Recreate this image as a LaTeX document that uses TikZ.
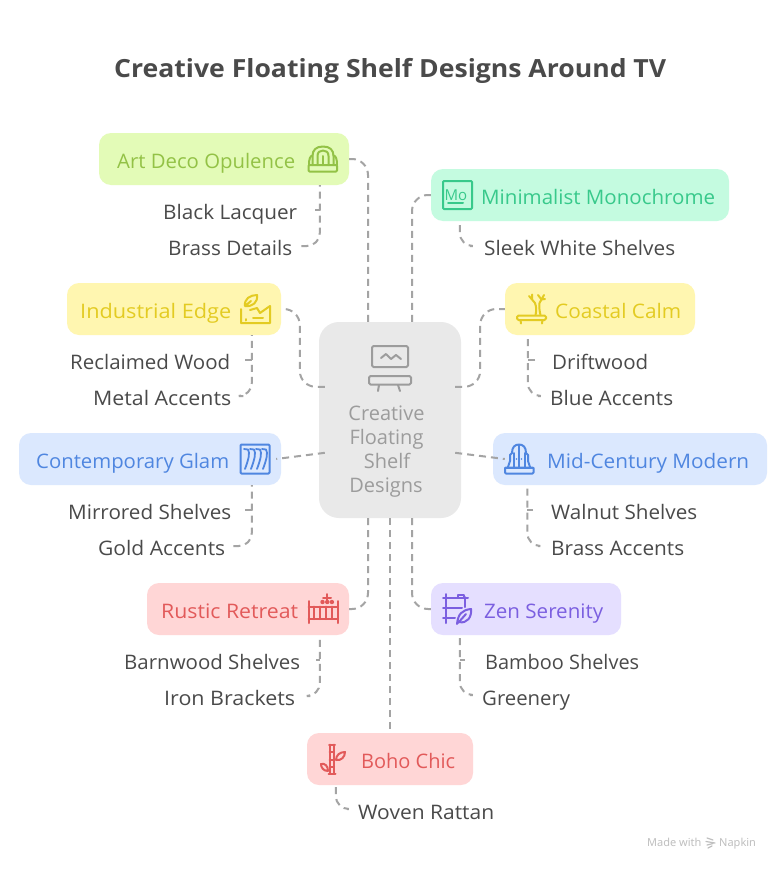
\documentclass[tikz,border=0pt]{standalone}
\usepackage{graphicx}
\usepackage{fontspec}
\setmainfont{Open Sans}
\newfontfamily\markfont{Noto Sans}
\usetikzlibrary{calc}
\definecolor{cgreen}{HTML}{E3FBB7}\definecolor{tgreen}{HTML}{93C246}
\definecolor{cmint}{HTML}{C4FBE0}\definecolor{tmint}{HTML}{38C98B}
\definecolor{cyel}{HTML}{FFF6B0}\definecolor{tyel}{HTML}{E3CB22}
\definecolor{cblue}{HTML}{DBE8FE}\definecolor{tblue}{HTML}{4F86E0}
\definecolor{cred}{HTML}{FFD6D6}\definecolor{tred}{HTML}{E25A5A}
\definecolor{cpur}{HTML}{E5DFFF}\definecolor{tpur}{HTML}{7B5FE0}
\definecolor{chub}{HTML}{E9E9E9}\definecolor{thub}{HTML}{9C9C9C}
\definecolor{tleaf}{HTML}{4A4A4A}\definecolor{tlink}{HTML}{A4A4A4}
\newcommand{\fitw}[2]{\resizebox{#1pt}{\height}{#2}}
\tikzset{
  card/.style={draw=none,rounded corners=12pt,inner sep=0pt,minimum height=52pt},
  txt/.style={anchor=base west,inner sep=0pt,font=\fontsize{20}{24}\selectfont},
  leaf/.style={txt,text=tleaf},
  link/.style={draw=tlink,line width=2pt,dash pattern=on 7pt off 5pt,rounded corners=16pt},
  sublink/.style={link,rounded corners=13pt},
  stub/.style={link,sharp corners},
  ico/.style={line width=2pt,line cap=round,line join=round},
}
\begin{document}
\begin{tikzpicture}[x=1pt,y=-1pt]
\useasboundingbox (0,0) rectangle (780,870);
\fill[white] (0,0) rectangle (780,870);
% title
\node[anchor=base west,inner sep=0pt,text=tleaf,font=\fontsize{25}{30}\selectfont\bfseries] (title) at (114,77) {\fitw{552}{Creative Floating Shelf Designs Around TV}};
% cards
\node[card,fill=chub,rounded corners=20pt,minimum width=142pt,minimum height=196pt] (hub) at (390,420) {};
\node[card,fill=cgreen,minimum width=250pt] (artdeco) at (224,159) {};
\node[card,fill=cmint,minimum width=298pt] (minimal) at (580,195) {};
\node[card,fill=cyel,minimum width=214pt] (industrial) at (174,309) {};
\node[card,fill=cyel,minimum width=190pt] (coastal) at (600,309) {};
\node[card,fill=cblue,minimum width=262pt] (contemp) at (150,459) {};
\node[card,fill=cblue,minimum width=274pt] (midcent) at (630,459) {};
\node[card,fill=cred,minimum width=202pt] (rustic) at (248,609) {};
\node[card,fill=cpur,minimum width=190pt] (zen) at (526,609) {};
\node[card,fill=cred,minimum width=166pt] (boho) at (390,759) {};
% card labels
\node[txt,text=tgreen] (artdecoT) at (117,168.5) {\fitw{178}{Art Deco Opulence}};
\node[txt,text=tmint] (minimalT) at (481,204.5) {\fitw{234}{Minimalist Monochrome}};
\node[txt,text=tyel] (industrialT) at (80,318.5) {\fitw{151}{Industrial Edge}};
\node[txt,text=tyel] (coastalT) at (555,318.5) {\fitw{126}{Coastal Calm}};
\node[txt,text=tblue] (contempT) at (36,468.5) {\fitw{193}{Contemporary Glam}};
\node[txt,text=tblue] (midcentT) at (547,468.5) {\fitw{202}{Mid-Century Modern}};
\node[txt,text=tred] (rusticT) at (161,618.5) {\fitw{137}{Rustic Retreat}};
\node[txt,text=tpur] (zenT) at (484,618.5) {\fitw{119}{Zen Serenity}};
\node[txt,text=tred] (bohoT) at (361,768.5) {\fitw{94}{Boho Chic}};
% leaves
\node[leaf] (lacquer) at (163,219) {\fitw{134}{Black Lacquer}};
\node[leaf] (brassd) at (168,255) {\fitw{124}{Brass Details}};
\node[leaf] (sleek) at (484,255) {\fitw{191}{Sleek White Shelves}};
\node[leaf] (reclaimed) at (70,369) {\fitw{160}{Reclaimed Wood}};
\node[leaf] (metal) at (93,405) {\fitw{138}{Metal Accents}};
\node[leaf] (driftwood) at (552,369) {\fitw{96}{Driftwood}};
\node[leaf] (blueacc) at (550,405) {\fitw{123}{Blue Accents}};
\node[leaf] (mirrored) at (68,519) {\fitw{163}{Mirrored Shelves}};
\node[leaf] (gold) at (98,555) {\fitw{127}{Gold Accents}};
\node[leaf] (walnut) at (551,519) {\fitw{146}{Walnut Shelves}};
\node[leaf] (brassa) at (551,555) {\fitw{133}{Brass Accents}};
\node[leaf] (barnwood) at (124,669) {\fitw{176}{Barnwood Shelves}};
\node[leaf] (iron) at (164,705) {\fitw{131}{Iron Brackets}};
\node[leaf] (bamboo) at (485,669) {\fitw{154}{Bamboo Shelves}};
\node[leaf] (greenery) at (482,705) {\fitw{88}{Greenery}};
\node[leaf] (rattan) at (358,819) {\fitw{136}{Woven Rattan}};
% hub text
\node[txt,text=thub,anchor=base] (hubA) at (386.5,420.5) {Creative};
\node[txt,text=thub,anchor=base] (hubB) at (386.5,444.5) {Floating};
\node[txt,text=thub,anchor=base] (hubC) at (387,468.5) {Shelf};
\node[txt,text=thub,anchor=base] (hubD) at (386,492.5) {Designs};
% ports
\coordinate (hubNL) at ($(hub.north)+(-22,0)$);
\coordinate (hubNR) at ($(hub.north)+(22,0)$);
\coordinate (hubSL) at ($(hub.south)+(-22,0)$);
\coordinate (hubSR) at ($(hub.south)+(22,0)$);
\coordinate (hubW1) at ($(hub.north west)+(6,65)$);
\coordinate (hubW2) at ($(hub.north west)+(6,131)$);
\coordinate (hubE1) at ($(hub.north east)+(-6,65)$);
\coordinate (hubE2) at ($(hub.north east)+(-6,131)$);
% hub links
\draw[link] (hubNL) |- (artdeco.east);
\draw[link] (hubNR) |- (minimal.west);
\coordinate (indBend) at ($(hubW1)+(-25,0)$);
\draw[link] (hubW1) -- (indBend) |- (industrial.east);
\coordinate (coaBend) at ($(hubE1)+(25,0)$);
\draw[link] (hubE1) -- (coaBend) |- (coastal.west);
\draw[link] (hubW2) -- ($(contemp.east)+(-5,0)$);
\draw[link] (hubE2) -- ($(midcent.west)+(12,0)$);
\draw[link] (hubSL) |- (rustic.east);
\draw[link] (hubSR) |- (zen.west);
\draw[link] (hub.south) -- (boho.north);
% child links: trunk runs from the card, ends at the last leaf; stubs run from the leaf to the trunk
\coordinate (pArt) at ($(artdeco.south west)+(221,0)$);
\coordinate (eArt) at ($(lacquer.base east)+(18,-9)$);
\draw[stub] (eArt) -- (eArt -| pArt);
\draw[sublink] ($(brassd.base east)+(9,-9)$) -| (pArt);
\coordinate (pMin) at ($(minimal.south west)+(29,0)$);
\draw[sublink] ($(sleek.base west)+(-14,-9)$) -| (pMin);
\coordinate (pInd) at ($(industrial.south west)+(185,0)$);
\coordinate (eInd) at ($(reclaimed.base east)+(15,-9)$);
\draw[stub] (eInd) -- (eInd -| pInd);
\draw[sublink] ($(metal.base east)+(12,-9)$) -| (pInd);
\coordinate (pCoa) at ($(coastal.south west)+(23,0)$);
\coordinate (eCoa) at ($(driftwood.base west)+(-17,-9)$);
\draw[stub] (eCoa) -- (eCoa -| pCoa);
\draw[sublink] ($(blueacc.base west)+(-12,-9)$) -| (pCoa);
\coordinate (pCon) at ($(contemp.south west)+(233,0)$);
\coordinate (eCon) at ($(mirrored.base east)+(14,-9)$);
\draw[stub] (eCon) -- (eCon -| pCon);
\draw[sublink] ($(gold.base east)+(8,-9)$) -| (pCon);
\coordinate (pMid) at ($(midcent.south west)+(34.5,0)$);
\coordinate (eMid) at ($(walnut.base west)+(-18,-9)$);
\draw[stub] (eMid) -- (eMid -| pMid);
\draw[sublink] ($(brassa.base west)+(-13,-9)$) -| (pMid);
\coordinate (pRus) at ($(rustic.south west)+(173,0)$);
\coordinate (eRus) at ($(barnwood.base east)+(16,-9)$);
\draw[stub] (eRus) -- (eRus -| pRus);
\draw[sublink] ($(iron.base east)+(15,-9)$) -| (pRus);
\coordinate (pZen) at ($(zen.south west)+(29,0)$);
\coordinate (eZen) at ($(bamboo.base west)+(-20,-9)$);
\draw[stub] (eZen) -- (eZen -| pZen);
\draw[sublink] ($(greenery.base west)+(-12,-10)$) -| (pZen);
\coordinate (pBoh) at ($(boho.south west)+(29,0)$);
\draw[sublink] ($(rattan.base west)+(-11,-10)$) -| (pBoh);
% icon: hub
\begin{scope}[ico,draw=thub]
\draw[rounded corners=1.5pt] (372,346) rectangle (408,367);
\draw (381,358) -- (386,354) -- (391,359) -- (396,355) -- (401,359);
\draw[rounded corners=1.5pt] (369,376) rectangle (411,384.5);
\draw (379,385) -- (378,391) (398,385) -- (400,391);
\end{scope}
% icon: art deco
\begin{scope}[ico,draw=tgreen]
\draw[rounded corners=1pt] (308.5,165) rectangle (337,171.5);
\draw (309,165) .. controls (309,159) and (310,156) .. (312.5,155.5);
\draw (337,165) .. controls (337,159) and (336,156) .. (333.5,155.5);
\draw (312.5,165) -- (312.5,156) .. controls (312.5,150) and (316,146.5) .. (323,146.5) .. controls (330,146.5) and (333.5,150) .. (333.5,156) -- (333.5,165);
\draw (317.5,165) -- (317.5,156) .. controls (317.5,152) and (320,150.5) .. (323,150.5) .. controls (326,150.5) and (328.5,152) .. (328.5,156) -- (328.5,165);
\draw (323,156) -- (323,165);
\end{scope}
% icon: minimalist
\begin{scope}[ico,draw=tmint]
\draw[rounded corners=1pt] (443,181) rectangle (472,209);
\draw (448,203) -- (463,203);
\node[inner sep=0pt,anchor=base,text=tmint,font=\fontsize{15}{15}\selectfont] (monoT) at (456,200) {Mo};
\end{scope}
% icon: industrial
\begin{scope}[ico,draw=tyel]
\draw (241,309) -- (241,323) -- (270,323) -- (270,306) -- (260,313) -- (257,308) -- (250,310);
\draw (246,320.5) -- (246,319) (253,318) -- (263,318);
\draw (245,306) .. controls (244,299) and (250,295) .. (257,295) .. controls (258,302) and (253,307) .. (245,306) -- (251,301);
\end{scope}
% icon: coastal
\begin{scope}[ico,draw=tyel]
\draw[rounded corners=1.5pt] (517,315.5) rectangle (546,320);
\draw (520.5,320) -- (521,323.5) (542.5,320) -- (542,323.5);
\draw (535.5,315) .. controls (536.5,311) and (536.5,307) .. (535,303) -- (529,296);
\draw (540.5,315) .. controls (539.5,311) and (539,307) .. (539.5,303) -- (544,295);
\draw (532,299) -- (532,294.5) (541.5,299.5) -- (538,295) (541.5,299.5) -- (545,299);
\end{scope}
% icon: contemporary
\begin{scope}[ico,draw=tblue]
\draw[rounded corners=1pt] (240.5,444.5) rectangle (269.5,473.5);
\foreach \dx in {0,6,12,18}{
  \draw[line width=1.8pt] (244+\dx,449) -- (248+\dx,449.5) .. controls (250+\dx,453) and (249+\dx,458) .. (245+\dx,469);
}
\end{scope}
% icon: mid-century
\begin{scope}[ico,draw=tblue]
\draw[rounded corners=1pt] (505,467.5) rectangle (533.5,473.5);
\draw (505,467.5) -- (533.5,467.5);
\draw (508,467) -- (510,461) -- (510,455) -- (512,453) .. controls (512,447) and (515,444.5) .. (519,444.5) .. controls (523,444.5) and (526,447) .. (526,453) -- (528,455) -- (528,461) -- (530,467);
\draw (513.5,467) -- (513.5,453) (524.5,453) -- (524.5,467);
\draw (519,445) -- (519,467);
\fill[tblue] (516.5,459) circle (0.9) (521.5,459) circle (0.9);
\end{scope}
% icon: rustic
\begin{scope}[ico,draw=tred]
\draw (308.5,601) -- (308.5,623) (338,601) -- (338,623);
\draw (308.5,606.5) -- (338,606.5) (308.5,619) -- (338,619);
\foreach \sx in {314,320,326,332}{\draw (\sx,606.5) -- (\sx,619);}
\draw (327,594) -- (327,600) (323,597.5) -- (331,597.5);
\fill[tred] (322.5,602) circle (2.2) (327.2,602) circle (2.2) (331.9,602) circle (2.2);
\end{scope}
% icon: zen
\begin{scope}[ico,draw=tpur]
\draw (446,594) -- (446,623);
\draw (465,597) -- (465,607);
\draw (443,598) -- (468,598) (443,608) -- (462,608) (443,618) -- (455,618);
\draw (458,597) -- (458,594.5) -- (464,594.5) -- (464,597);
\draw (457,624) .. controls (458,614) and (462,610) .. (471,609) .. controls (472,617) and (467,624) .. (459,622) (458,623) -- (466,614);
\end{scope}
% icon: boho
\begin{scope}[ico,draw=tred]
\draw (329,744.5) -- (335,744.5) (328.5,773.5) -- (335.5,773.5);
\draw (329.5,744.5) -- (329.5,773.5) (334,744.5) -- (334,773.5);
\draw (329.5,752) -- (334,752) (329.5,760) -- (334,760) (329.5,767) -- (334,767);
\draw (336,760) .. controls (336,755) and (340,752) .. (345,752) .. controls (345,757) and (341,761) .. (336,760);
\draw (328,771) .. controls (323,771) and (321,767) .. (321,764) .. controls (325,763) and (328,766) .. (328,771);
\end{scope}
% watermark
\node[anchor=base west,inner sep=0pt,text=black!25,font=\markfont\fontsize{11}{13}\selectfont] (madeT) at (647,846) {Made with};
\node[anchor=base west,inner sep=0pt,text=black!25,font=\markfont\fontsize{11}{13}\selectfont] (napT) at (719,846) {Napkin};
\draw[black!25,line width=1.2pt,line cap=round] (707,838) -- (713,840) (706,841.5) -- (715,843) (707,845) -- (713,843.5) (708,848) -- (712,846);
\end{tikzpicture}
\end{document}
